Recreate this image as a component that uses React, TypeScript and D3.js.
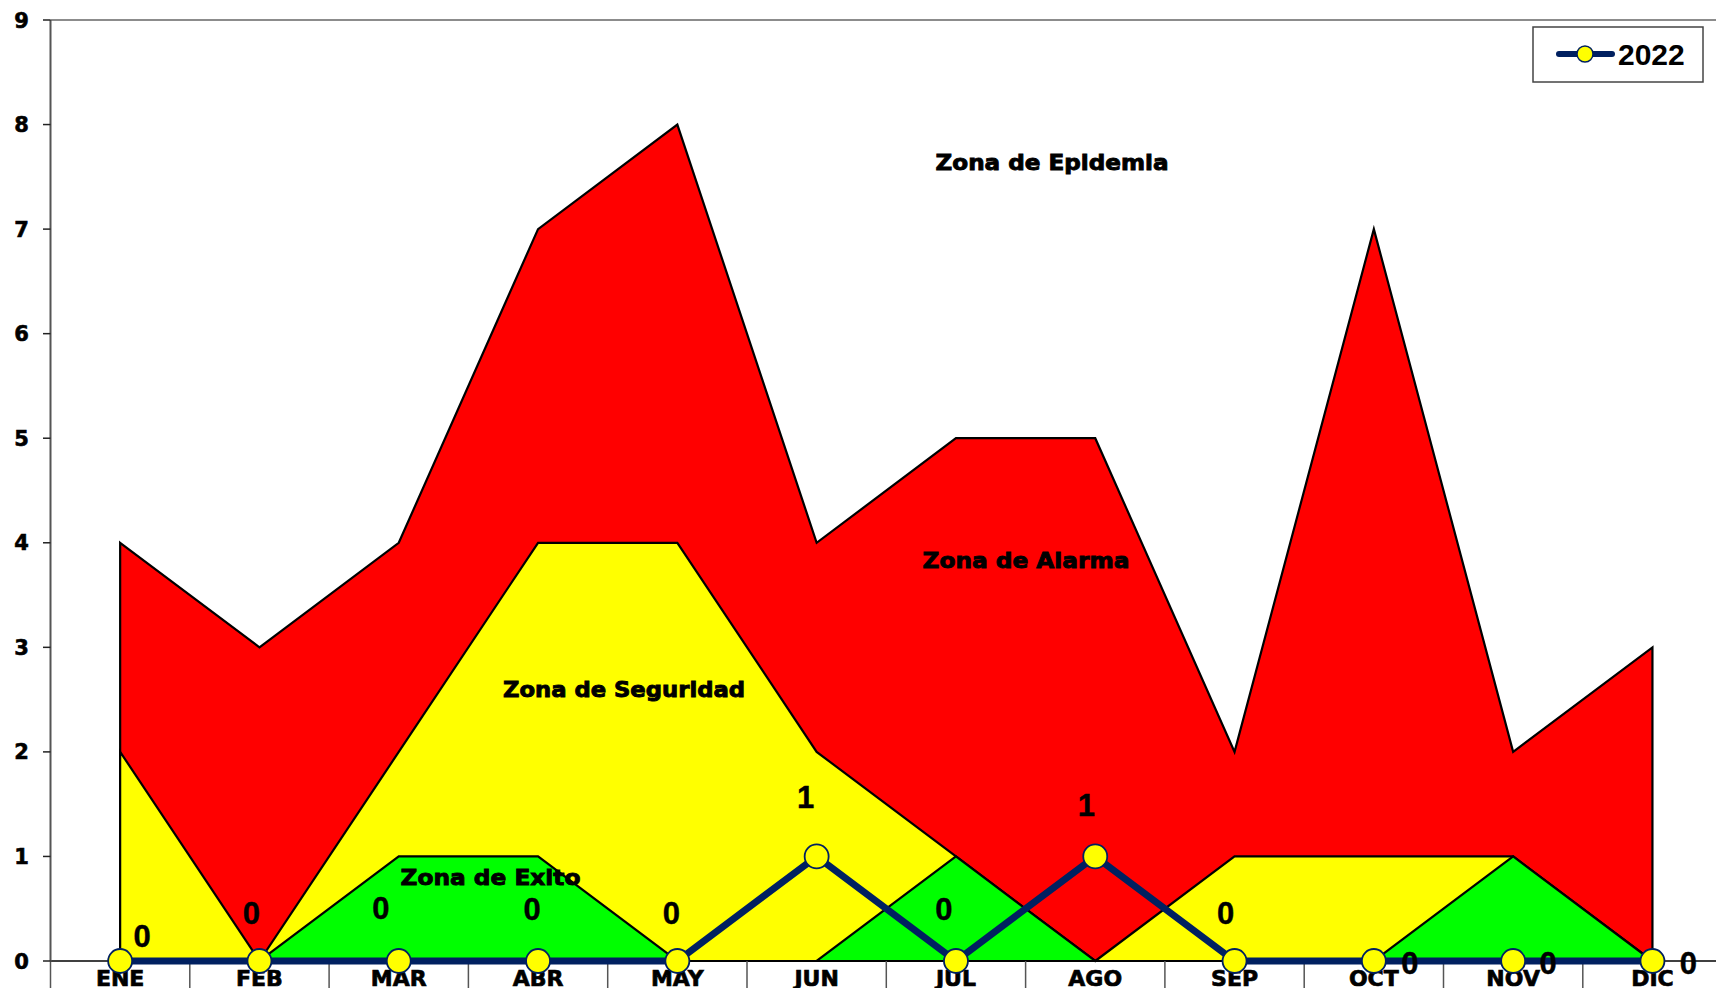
import React from "react";
import * as d3 from "d3";

const months = ["ENE", "FEB", "MAR", "ABR", "MAY", "JUN", "JUL", "AGO", "SEP", "OCT", "NOV", "DIC"];
const alarma = [4, 3, 4, 7, 8, 4, 5, 5, 2, 7, 2, 3];
const seguridad = [2, 0, 2, 4, 4, 2, 1, 0, 1, 1, 1, 0];
const exito = [0, 0, 1, 1, 0, 0, 1, 0, 0, 0, 1, 0];
const casos2022 = [0, 0, 0, 0, 0, 1, 0, 1, 0, 0, 0, 0];
const yTicks = [0, 1, 2, 3, 4, 5, 6, 7, 8, 9];
const seriesName = "2022";
// label offsets (px) relative to each point, as placed manually in the source chart
const labelDx = [22, -8, -18, -6, -6, -11, -12, -9, -9, 36, 35, 36];
const labelDy = [-15, -38, -43, -42, -38, -49, -42, -41, -38, 12, 12, 12];
const zoneLabels = [
  { text: "Zona de Epidemia", x: 1052, y: 170, w: 233 },
  { text: "Zona de Alarma", x: 1026, y: 568, w: 207 },
  { text: "Zona de Seguridad", x: 624, y: 697, w: 242 },
  { text: "Zona de Exito", x: 490.5, y: 885, w: 180 },
];

const W = 1716;
const H = 988;
const left = 50.5;
const top = 20;
const bottom = 961;
const step = 139.3;
const right = left + step * 12;

export default function App() {
  const x = d3.scaleBand<string>().domain(months).range([left, right]).padding(0);
  const cx = (m: string) => (x(m) as number) + x.bandwidth() / 2;
  const y = d3.scaleLinear().domain([0, 9]).range([bottom, top]);

  const area = d3
    .area<number>()
    .x((_, i) => cx(months[i]))
    .y0(() => y(0))
    .y1((d) => y(d));
  const line = d3
    .line<number>()
    .x((_, i) => cx(months[i]))
    .y((d) => y(d));

  const bold = "'DejaVu Sans', sans-serif";
  const arial = "'Liberation Sans', Arial, sans-serif";

  return (
    <svg
      width={W}
      height={H}
      style={{ position: "absolute", left: 0, top: 0, background: "#fff" }}
    >
      <rect x={0} y={0} width={W} height={H} fill="#fff" />
      {/* top border */}
      <line x1={left} x2={W} y1={top} y2={top} stroke="#8c8c8c" strokeWidth={2} />

      {/* areas */}
      <path d={area(alarma) + "Z"} fill="#FF0000" stroke="#000" strokeWidth={2.2} strokeLinejoin="miter" />
      <path d={area(seguridad) + "Z"} fill="#FFFF00" stroke="#000" strokeWidth={2.2} />
      <path d={area(exito) + "Z"} fill="#00FF00" stroke="#000" strokeWidth={2.2} />

      {/* zone labels */}
      {zoneLabels.map((z) => (
        <text
          key={z.text}
          x={z.x - z.w / 2}
          y={z.y}
          textLength={z.w}
          lengthAdjust="spacingAndGlyphs"
          fontFamily={bold}
          fontWeight="bold"
          fontSize={22}
          fill="#000"
          stroke="#000"
          strokeWidth={0.9}
        >
          {z.text}
        </text>
      ))}

      {/* x axis */}
      <line x1={left} x2={W} y1={bottom} y2={bottom} stroke="#000" strokeWidth={1.5} />
      {d3.range(0, 13).map((i) => (
        <line
          key={"sep" + i}
          x1={left + i * x.step()}
          x2={left + i * x.step()}
          y1={bottom}
          y2={H}
          stroke="#555"
          strokeWidth={1.5}
        />
      ))}
      {months.map((m) => (
        <text
          key={m}
          x={cx(m)}
          y={986}
          textAnchor="middle"
          fontFamily={bold}
          fontWeight="bold"
          fontSize={22}
          fill="#000"
          stroke="#000"
          strokeWidth={0.7}
        >
          {m}
        </text>
      ))}

      {/* y axis */}
      <line x1={left} x2={left} y1={top} y2={bottom} stroke="#555" strokeWidth={2} />
      {yTicks.map((t) => (
        <g key={"yt" + t}>
          <line x1={43} x2={left} y1={y(t)} y2={y(t)} stroke="#222" strokeWidth={1.5} />
          <text
            x={21.5}
            y={y(t) + 7.5}
            textAnchor="middle"
            fontFamily={bold}
            fontWeight="bold"
            fontSize={21}
            fill="#000"
            stroke="#000"
            strokeWidth={0.6}
          >
            {t}
          </text>
        </g>
      ))}

      {/* 2022 line */}
      <path d={line(casos2022) as string} fill="none" stroke="#002060" strokeWidth={7} strokeLinejoin="round" />
      {casos2022.map((v, i) => (
        <circle
          key={"pt" + i}
          cx={cx(months[i])}
          cy={y(v)}
          r={12}
          fill="#FFFF00"
          stroke="#002060"
          strokeWidth={1.8}
        />
      ))}
      {casos2022.map((v, i) => (
        <text
          key={"lb" + i}
          x={cx(months[i]) + labelDx[i]}
          y={y(v) + labelDy[i] + 1}
          textAnchor="middle"
          fontFamily={arial}
          fontWeight="bold"
          fontSize={31}
          fill="#000"
          stroke="#000"
          strokeWidth={0.4}
        >
          {v}
        </text>
      ))}

      {/* legend */}
      <rect x={1533} y={27} width={170} height={55} fill="#fff" stroke="#444" strokeWidth={1.5} />
      <line x1={1559} x2={1612} y1={54} y2={54} stroke="#002060" strokeWidth={6} strokeLinecap="round" />
      <circle cx={1585} cy={54} r={8} fill="#FFFF00" stroke="#002060" strokeWidth={1.5} />
      <text x={1618} y={65} fontFamily={arial} fontWeight="bold" fontSize={30} fill="#000">
        {seriesName}
      </text>
    </svg>
  );
}
